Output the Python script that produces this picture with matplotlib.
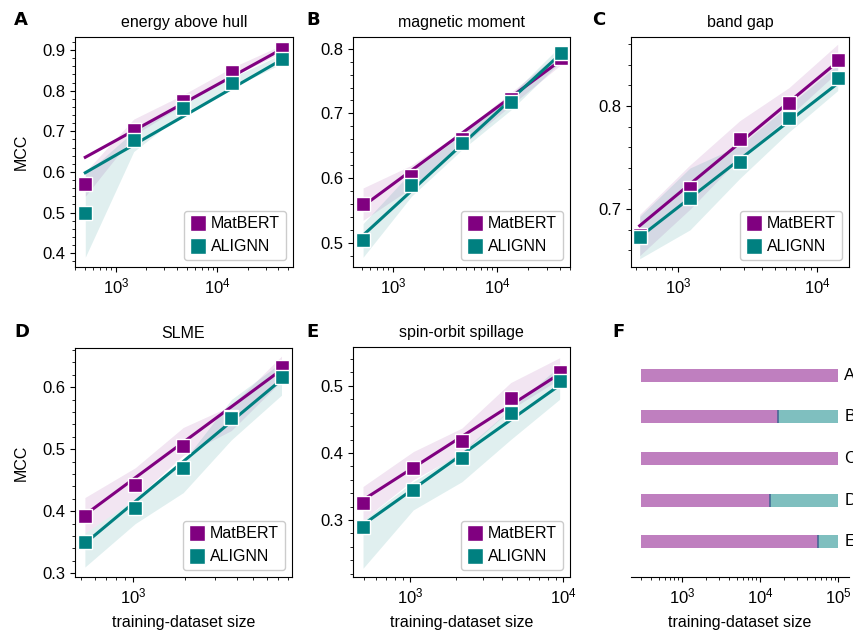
import numpy as np
import matplotlib
matplotlib.use("Agg")
import matplotlib.pyplot as plt
from matplotlib.lines import Line2D
from matplotlib.ticker import MultipleLocator, AutoMinorLocator, NullFormatter, LogLocator

plt.rcParams['font.family'] = ['Liberation Sans', 'DejaVu Sans']

purple = '#800080'
teal = '#008080'

# panel A: energy above hull
sizes_A = [500, 1500, 4600, 14000, 43000]
bert_A = [0.570, 0.703, 0.775, 0.845, 0.903]
bert_A_lo = [0.540, 0.690, 0.765, 0.835, 0.893]
bert_A_hi = [0.600, 0.730, 0.790, 0.857, 0.912]
alig_A = [0.500, 0.678, 0.757, 0.820, 0.878]
alig_A_lo = [0.390, 0.650, 0.745, 0.808, 0.866]
alig_A_hi = [0.595, 0.700, 0.772, 0.832, 0.890]
fit_A = [(0.636, 0.902), (0.598, 0.876)]

# panel B: magnetic moment
sizes_B = [515, 1500, 4600, 13500, 41000]
bert_B = [0.560, 0.603, 0.660, 0.722, 0.785]
bert_B_lo = [0.535, 0.585, 0.650, 0.712, 0.775]
bert_B_hi = [0.585, 0.620, 0.672, 0.732, 0.795]
alig_B = [0.505, 0.590, 0.655, 0.717, 0.793]
alig_B_lo = [0.478, 0.572, 0.644, 0.705, 0.780]
alig_B_hi = [0.530, 0.610, 0.667, 0.728, 0.805]
fit_B = [(0.557, 0.782), (0.512, 0.792)]

# panel C: band gap
sizes_C = [530, 1220, 2790, 6300, 14100]
bert_C = [0.675, 0.721, 0.768, 0.803, 0.845]
bert_C_lo = [0.655, 0.700, 0.750, 0.790, 0.833]
bert_C_hi = [0.695, 0.743, 0.786, 0.818, 0.860]
alig_C = [0.673, 0.711, 0.746, 0.788, 0.827]
alig_C_lo = [0.652, 0.680, 0.730, 0.775, 0.815]
alig_C_hi = [0.693, 0.740, 0.762, 0.801, 0.840]
fit_C = [(0.684, 0.843), (0.673, 0.822)]

# panel D: SLME
sizes_D = [525, 1030, 1960, 3730, 7300]
bert_D = [0.393, 0.442, 0.505, 0.552, 0.632]
bert_D_lo = [0.365, 0.420, 0.490, 0.530, 0.610]
bert_D_hi = [0.422, 0.470, 0.535, 0.570, 0.650]
alig_D = [0.350, 0.405, 0.470, 0.550, 0.617]
alig_D_lo = [0.310, 0.380, 0.430, 0.515, 0.587]
alig_D_hi = [0.365, 0.420, 0.480, 0.580, 0.640]
fit_D = [(0.394, 0.628), (0.348, 0.612)]

# panel E: spin-orbit spillage
sizes_E = [493, 1050, 2180, 4550, 9500]
bert_E = [0.325, 0.378, 0.418, 0.482, 0.520]
bert_E_lo = [0.300, 0.360, 0.400, 0.465, 0.510]
bert_E_hi = [0.350, 0.402, 0.437, 0.505, 0.542]
alig_E = [0.290, 0.344, 0.392, 0.460, 0.507]
alig_E_lo = [0.228, 0.315, 0.357, 0.420, 0.480]
alig_E_hi = [0.300, 0.357, 0.402, 0.466, 0.530]
fit_E = [(0.330, 0.518), (0.293, 0.501)]

# panel F: crossover sizes
f_labels = ['A', 'B', 'C', 'D', 'E']
f_start = 300
f_end = 1e5
f_cross = [1e5, 17000, 1e5, 13500, 55000]

panels = [
    ('A', 'energy above hull', sizes_A, bert_A, bert_A_lo, bert_A_hi, alig_A, alig_A_lo, alig_A_hi, fit_A,
     (396, 55600), (0.366, 0.932)),
    ('B', 'magnetic moment', sizes_B, bert_B, bert_B_lo, bert_B_hi, alig_B, alig_B_lo, alig_B_hi, fit_B,
     (412, 50300), (0.463, 0.818)),
    ('C', 'band gap', sizes_C, bert_C, bert_C_lo, bert_C_hi, alig_C, alig_C_lo, alig_C_hi, fit_C,
     (459, 17000), (0.644, 0.867)),
    ('D', 'SLME', sizes_D, bert_D, bert_D_lo, bert_D_hi, alig_D, alig_D_lo, alig_D_hi, fit_D,
     (460, 8400), (0.294, 0.663)),
    ('E', 'spin-orbit spillage', sizes_E, bert_E, bert_E_lo, bert_E_hi, alig_E, alig_E_lo, alig_E_hi, fit_E,
     (424, 11100), (0.215, 0.558)),
]

W, H = 854, 631
fig = plt.figure(figsize=(W / 100, H / 100), dpi=100)

def px_axes(left, top, right, bottom):
    return fig.add_axes([left / W, 1 - bottom / H, (right - left) / W, (bottom - top) / H])

boxes = {
    'A': (75, 37, 293, 267),
    'B': (353, 37, 570, 267),
    'C': (631, 37, 849, 267),
    'D': (75, 348, 292, 577),
    'E': (353, 347, 570, 577),
    'F': (631, 348, 849, 577),
}
letter_pos = {'A': (14, 20), 'B': (306, 20), 'C': (592, 20),
              'D': (14, 332), 'E': (306, 332), 'F': (612, 332)}

for (key, title, x, b, blo, bhi, a, alo, ahi, fit, xl, yl) in panels:
    ax = px_axes(*boxes[key])
    ax.set_xscale('log')
    ax.fill_between(x, blo, bhi, color=purple, alpha=0.1, lw=0)
    ax.fill_between(x, alo, ahi, color=teal, alpha=0.12, lw=0)
    ax.plot([x[0], x[-1]], list(fit[0]), color=purple, lw=2.2, zorder=3)
    ax.plot([x[0], x[-1]], list(fit[1]), color=teal, lw=2.2, zorder=3)
    ax.plot(x, b, 's', color=purple, ms=10.5, mec='white', mew=1, zorder=4)
    ax.plot(x, a, 's', color=teal, ms=10.5, mec='white', mew=1, zorder=5)
    ax.set_xlim(*xl)
    ax.set_ylim(*yl)
    ax.yaxis.set_major_locator(MultipleLocator(0.1))
    ax.yaxis.set_minor_locator(AutoMinorLocator(5))
    ax.xaxis.set_minor_formatter(NullFormatter())
    ax.tick_params(labelsize=12)
    ax.set_title(title, fontsize=11.5, pad=7)
    if key in ('A', 'D'):
        ax.set_ylabel('MCC', fontsize=11.5, labelpad=10)
    if key in ('D', 'E'):
        ax.set_xlabel('training-dataset size', fontsize=11.5, labelpad=6)
    handles = [Line2D([], [], marker='s', ls='none', color=purple, ms=11, mec='white'),
               Line2D([], [], marker='s', ls='none', color=teal, ms=11, mec='white')]
    ax.legend(handles, ['MatBERT', 'ALIGNN'], loc='lower right', fontsize=11.5,
              handletextpad=0.25, handlelength=1.1, borderpad=0.35, borderaxespad=0.45,
              labelspacing=0.5, edgecolor='#cccccc', framealpha=1)

# panel F
axf = px_axes(*boxes['F'])
axf.set_xscale('log')
bh = 0.31
for i, c in enumerate(f_cross):
    axf.barh(i, c - f_start, left=f_start, height=bh, color=purple, alpha=0.5, lw=0)
    if c < f_end:
        axf.barh(i, f_end - c, left=c, height=bh, color=teal, alpha=0.5, lw=0)
        axf.vlines(c, i - bh / 2, i + bh / 2, color='#3a6090', lw=1.3, alpha=0.8)
    axf.text(f_end * 1.2, i, f_labels[i], fontsize=12, va='center', ha='left', clip_on=False)
axf.set_xlim(222, 138000)
axf.set_ylim(4.84, -0.65)
axf.set_yticks([])
axf.tick_params(axis='x', labelsize=12)
axf.xaxis.set_minor_locator(LogLocator(subs=np.arange(2, 10)))
axf.xaxis.set_minor_formatter(NullFormatter())
for s in ('top', 'left', 'right'):
    axf.spines[s].set_visible(False)
axf.set_xlabel('training-dataset size', fontsize=11.5, labelpad=6)

for k, (lx, ly) in letter_pos.items():
    fig.text(lx / W, 1 - ly / H, k, fontsize=13, fontweight='bold', va='center', ha='left',
             family=['DejaVu Sans'])

fig.savefig('out.png', dpi=100)
